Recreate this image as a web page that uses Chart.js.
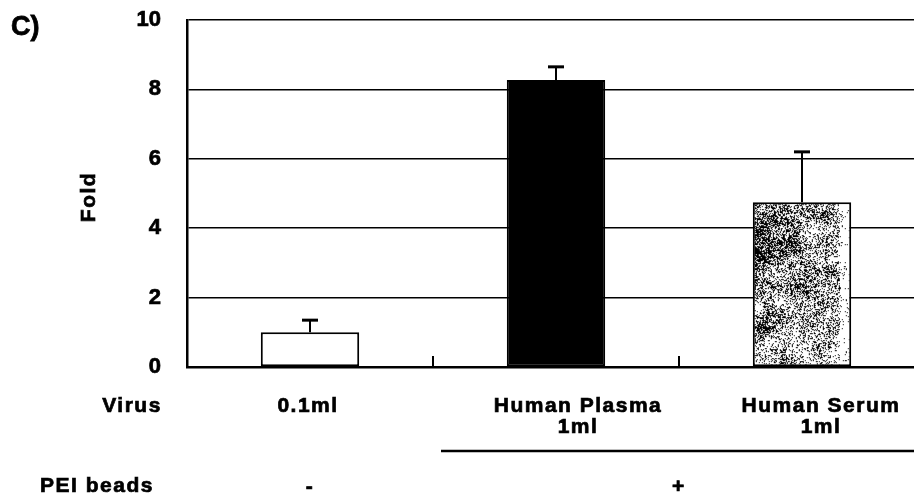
<!DOCTYPE html>
<html>
<head>
<meta charset="utf-8">
<title>Fold</title>
<script src="https://cdn.jsdelivr.net/npm/chart.js@4.4.1/dist/chart.umd.min.js"></script>
<style>
    html, body { margin: 0; padding: 0; background: #fff; overflow: hidden; }
    #wrap { width: 914px; height: 499px; overflow: hidden; }
    canvas { display: block; }
</style>
</head>
<body>
<div id="wrap"><canvas id="foldChart" width="930" height="499"></canvas></div>
<script>
const categories = ['0.1ml', 'Human Plasma', 'Human Serum'];
const foldValues = [1.0, 8.27, 4.75];
const foldErrors = [0.35, 0.38, 1.45];
const yTicks = [0, 2, 4, 6, 8, 10];
const virusRow = [['0.1ml'], ['Human Plasma', '1ml'], ['Human Serum', '1ml']];
const peiRow = ['-', '+'];

const FONT = '"Liberation Sans", Arial, Helvetica, sans-serif';

// stippled fill for the serum bar, heavier and clumpier on the left side
function makeSpeckle(w, h) {
    const c = document.createElement('canvas');
    c.width = w;
    c.height = h;
    const g = c.getContext('2d');
    g.fillStyle = '#fff';
    g.fillRect(0, 0, w, h);
    g.fillStyle = '#000';
    let seed = 987651;
    const rnd = () => {
        seed = (seed * 1103515245 + 12345) & 0x7fffffff;
        return seed / 0x7fffffff;
    };
    // coarse value-noise grids for the blotches
    function grid(cell) {
        const gw = Math.ceil(w / cell) + 2, gh = Math.ceil(h / cell) + 2;
        const v = [];
        for (let i = 0; i < gw * gh; i++) v.push(rnd());
        return (x, y) => {
            const fx = x / cell, fy = y / cell;
            const ix = Math.floor(fx), iy = Math.floor(fy);
            const tx = fx - ix, ty = fy - iy;
            const a = v[iy * gw + ix], b = v[iy * gw + ix + 1];
            const c2 = v[(iy + 1) * gw + ix], d = v[(iy + 1) * gw + ix + 1];
            const top = a + (b - a) * tx, bot = c2 + (d - c2) * tx;
            return top + (bot - top) * ty;
        };
    }
    const coarse = grid(14);
    const fine = grid(5);
    for (let y = 0; y < h; y++) {
        for (let x = 0; x < w; x++) {
            const t = x / w;
            let p = 0.72 - 0.38 * t;
            p *= 0.2 + 1.25 * coarse(x, y) * (0.5 + 0.75 * fine(x, y));
            p *= 1.1 - 0.35 * Math.min(y / 170, 1);
            if (x > w - 14) p *= 0.25;
            if (rnd() < p) g.fillRect(x, y, 1, 1);
        }
    }
    return c;
}

const speckleCanvas = makeSpeckle(100, 400);
const speckle = document.getElementById('foldChart').getContext('2d').createPattern(speckleCanvas, 'repeat');

const alignPattern = {
    id: 'alignPattern',
    beforeDatasetsDraw(chart) {
        const bar = chart.getDatasetMeta(0).data[2];
        if (!bar) return;
        const left = bar.x - bar.width / 2;
        speckle.setTransform(new DOMMatrix().translate(left, bar.y));
    }
};

const errorBars = {
    id: 'errorBars',
    afterDatasetsDraw(chart) {
        const ctx = chart.ctx;
        const y = chart.scales.y;
        const bars = chart.getDatasetMeta(0).data;
        ctx.save();
        ctx.strokeStyle = '#000';
        bars.forEach((bar, i) => {
            const top = y.getPixelForValue(foldValues[i] + foldErrors[i]);
            ctx.lineWidth = 2;
            ctx.beginPath();
            ctx.moveTo(bar.x, bar.y);
            ctx.lineTo(bar.x, top);
            ctx.stroke();
            ctx.lineWidth = 3;
            ctx.beginPath();
            ctx.moveTo(bar.x - 8, top);
            ctx.lineTo(bar.x + 8, top);
            ctx.stroke();
        });
        ctx.restore();
    }
};

// heavier text, closer to the printed look
function boldText(ctx, text, x, y) {
    ctx.fillText(text, x, y);
    ctx.strokeText(text, x, y);
}

// category boundary ticks, the row labels underneath and the headings
const labelShift = [-2, 22, 19];

const tableLabels = {
    id: 'tableLabels',
    afterDraw(chart) {
        const ctx = chart.ctx;
        const x = chart.scales.x;
        const area = chart.chartArea;
        ctx.save();
        ctx.strokeStyle = '#000';
        ctx.lineWidth = 2;
        for (let i = 0; i < categories.length - 1; i++) {
            const bx = (x.getPixelForValue(i) + x.getPixelForValue(i + 1)) / 2;
            ctx.beginPath();
            ctx.moveTo(bx, area.bottom);
            ctx.lineTo(bx, area.bottom - 11);
            ctx.stroke();
        }

        ctx.lineWidth = 2.5;
        ctx.beginPath();
        ctx.moveTo(441, 451);
        ctx.lineTo(chart.width, 451);
        ctx.stroke();

        ctx.fillStyle = '#000';
        ctx.lineWidth = 0.7;
        ctx.textBaseline = 'middle';
        ctx.textAlign = 'center';
        ctx.font = 'bold 21px ' + FONT;
        ctx.letterSpacing = '1.5px';
        boldText(ctx, 'Virus', 132, 406);
        boldText(ctx, 'PEI beads', 97, 486);

        virusRow.forEach((lines, i) => {
            const cx = x.getPixelForValue(i) + labelShift[i];
            lines.forEach((t, j) => boldText(ctx, t, cx, 406 + j * 21));
        });

        boldText(ctx, peiRow[0], x.getPixelForValue(0), 487);
        const plusX = (x.getPixelForValue(1) + x.getPixelForValue(2)) / 2;
        boldText(ctx, peiRow[1], plusX, 487);

        ctx.translate(89, 197);
        ctx.rotate(-Math.PI / 2);
        boldText(ctx, 'Fold', 0, 0);
        ctx.restore();

        ctx.save();
        ctx.fillStyle = '#000';
        ctx.strokeStyle = '#000';
        ctx.lineWidth = 0.8;
        ctx.font = 'bold 27px ' + FONT;
        ctx.textBaseline = 'middle';
        ctx.textAlign = 'left';
        boldText(ctx, 'C)', 11, 28);
        ctx.restore();
    }
};

new Chart(document.getElementById('foldChart'), {
    type: 'bar',
    data: {
        labels: categories,
        datasets: [{
            data: foldValues,
            backgroundColor: ['#ffffff', '#000000', speckle],
            borderColor: '#000',
            borderWidth: 2,
            borderSkipped: false,
            barPercentage: 0.4,
            categoryPercentage: 1.0
        }]
    },
    options: {
        responsive: false,
        animation: false,
        devicePixelRatio: 1,
        layout: { padding: { top: 20, right: 5, left: 0, bottom: 0 } },
        plugins: {
            legend: { display: false },
            tooltip: { enabled: false }
        },
        scales: {
            x: {
                grid: { display: false, drawTicks: false },
                border: { color: '#000', width: 2.5 },
                ticks: { display: false },
                afterFit: s => { s.height = 132; }
            },
            y: {
                min: 0,
                max: 10,
                afterBuildTicks: s => { s.ticks = yTicks.map(v => ({ value: v })); },
                grid: { color: '#000', lineWidth: 1.5, drawTicks: false },
                border: { color: '#000', width: 2.5 },
                ticks: {
                    color: '#000',
                    padding: 26,
                    textStrokeColor: '#000',
                    textStrokeWidth: 0.7,
                    font: { family: FONT, size: 22, weight: 'bold' }
                },
                afterFit: s => {
                    s.width = 187;
                    s.paddingTop = 0;
                    s.paddingBottom = 0;
                }
            }
        }
    },
    plugins: [alignPattern, errorBars, tableLabels]
});
</script>
</body>
</html>
